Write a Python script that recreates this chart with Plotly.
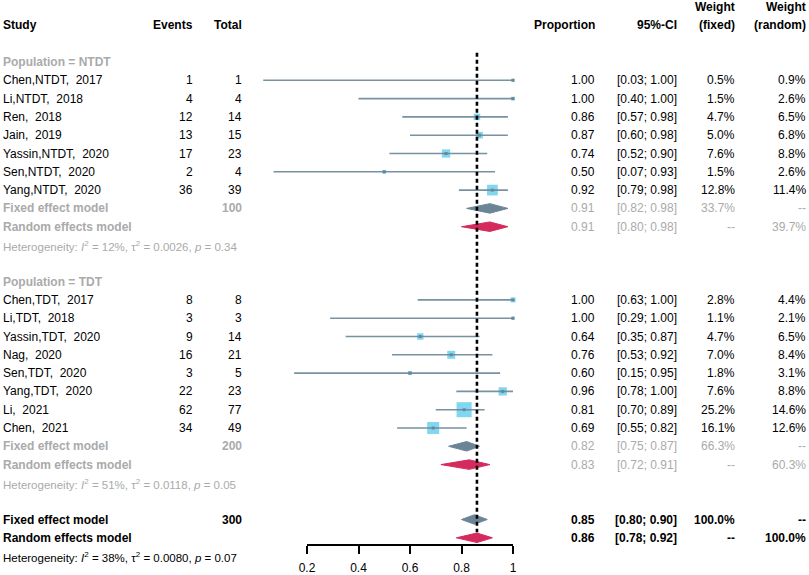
import plotly.graph_objects as go

# ---------------- data ----------------
ntdt_study = ["Chen,NTDT,\u00a0 2017", "Li,NTDT,\u00a0 2018", "Ren,\u00a0 2018", "Jain,\u00a0 2019",
              "Yassin,NTDT,\u00a0 2020", "Sen,NTDT,\u00a0 2020", "Yang,NTDT,\u00a0 2020"]
ntdt_events = [1, 4, 12, 13, 17, 2, 36]
ntdt_total = [1, 4, 14, 15, 23, 4, 39]
ntdt_prop = [1.00, 1.00, 0.86, 0.87, 0.74, 0.50, 0.92]
ntdt_lo = [0.03, 0.40, 0.57, 0.60, 0.52, 0.07, 0.79]
ntdt_hi = [1.00, 1.00, 0.98, 0.98, 0.90, 0.93, 0.98]
ntdt_wf = [0.5, 1.5, 4.7, 5.0, 7.6, 1.5, 12.8]
ntdt_wr = [0.9, 2.6, 6.5, 6.8, 8.8, 2.6, 11.4]
ntdt_fixed = [0.91, 0.82, 0.98]   # est, lo, hi
ntdt_random = [0.91, 0.80, 0.98]
ntdt_sum_total = 100
ntdt_sum_wf = 33.7
ntdt_sum_wr = 39.7
ntdt_het = ["12%", "0.0026", "0.34"]

tdt_study = ["Chen,TDT,\u00a0 2017", "Li,TDT,\u00a0 2018", "Yassin,TDT,\u00a0 2020", "Nag,\u00a0 2020",
             "Sen,TDT,\u00a0 2020", "Yang,TDT,\u00a0 2020", "Li,\u00a0 2021", "Chen,\u00a0 2021"]
tdt_events = [8, 3, 9, 16, 3, 22, 62, 34]
tdt_total = [8, 3, 14, 21, 5, 23, 77, 49]
tdt_prop = [1.00, 1.00, 0.64, 0.76, 0.60, 0.96, 0.81, 0.69]
tdt_lo = [0.63, 0.29, 0.35, 0.53, 0.15, 0.78, 0.70, 0.55]
tdt_hi = [1.00, 1.00, 0.87, 0.92, 0.95, 1.00, 0.89, 0.82]
tdt_wf = [2.8, 1.1, 4.7, 7.0, 1.8, 7.6, 25.2, 16.1]
tdt_wr = [4.4, 2.1, 6.5, 8.4, 3.1, 8.8, 14.6, 12.6]
tdt_fixed = [0.82, 0.75, 0.87]
tdt_random = [0.83, 0.72, 0.91]
tdt_sum_total = 200
tdt_sum_wf = 66.3
tdt_sum_wr = 60.3
tdt_het = ["51%", "0.0118", "0.05"]

all_fixed = [0.85, 0.80, 0.90]
all_random = [0.86, 0.78, 0.92]
all_total = 300
all_het = ["38%", "0.0080", "0.07"]

tick_vals = [0.2, 0.4, 0.6, 0.8, 1.0]
tick_text = ["0.2", "0.4", "0.6", "0.8", "1"]

# ---------------- layout constants ----------------
W, H = 809, 575
ROW0_PX, ROW_PX = 62.0, 18.3
X0_PX, XUNIT_PX = 255.5, 257.5
FONT = "Liberation Sans, Arial, sans-serif"
GRAY = "#aaaaaa"
SQ_COL = "#4dc6ea"
CI_COL = "#6a8799"
FIX_COL = "#6b8597"
RAN_COL = "#d42a5d"
COL = dict(study=3, events=193, total=242, prop=595, ci=677, wf=735, wr=806)

fig = go.Figure()
ann = []


def txt(col, row, s, anchor="right", color="black", bold=False, size=12):
    if bold:
        s = "<b>" + s + "</b>"
    ann.append(dict(xref="paper", yref="y", x=COL[col] / W, y=row, text=s, showarrow=False,
                    xanchor=anchor, yanchor="middle", borderpad=0, borderwidth=0,
                    font=dict(family=FONT, size=size, color=color)))


def ci(lo, hi):
    return f"[{lo:.2f}; {hi:.2f}]"


def het_text(h):
    return (f"Heterogeneity: <i>I</i><sup>2</sup> = {h[0]}, \u03c4<sup>2</sup> = {h[1]}, "
            f"<i>p</i> = {h[2]}")


def diamond(vals, row, color, hh=0.26):
    est, lo, hi = vals
    fig.add_trace(go.Scatter(x=[lo, est, hi, est, lo], y=[row, row - hh, row, row + hh, row],
                             mode="lines", fill="toself", fillcolor=color,
                             line=dict(color=color, width=1), hoverinfo="skip", showlegend=False))


def studies(names, ev, tot, p, lo, hi, wf, wr, start):
    rows = [start + i for i in range(len(names))]
    sizes = [max(3.0 * w ** 0.5, 3) for w in wf]
    fig.add_trace(go.Scatter(x=p, y=rows, mode="markers",
                             marker=dict(symbol="square", size=sizes, color=SQ_COL, line=dict(width=0)),
                             hoverinfo="skip", showlegend=False))
    for r, a, b in zip(rows, lo, hi):
        fig.add_trace(go.Scatter(x=[a, b], y=[r, r], mode="lines", line=dict(color=CI_COL, width=1.6),
                                 opacity=0.9, hoverinfo="skip", showlegend=False))
    fig.add_trace(go.Scatter(x=p, y=rows, mode="markers",
                             marker=dict(symbol="square", size=3, color=CI_COL),
                             hoverinfo="skip", showlegend=False))
    for i, r in enumerate(rows):
        txt("study", r, names[i], anchor="left")
        txt("events", r, str(ev[i]))
        txt("total", r, str(tot[i]))
        txt("prop", r, f"{p[i]:.2f}")
        txt("ci", r, ci(lo[i], hi[i]))
        txt("wf", r, f"{wf[i]:.1f}%")
        txt("wr", r, f"{wr[i]:.1f}%")
    return rows[-1]


def summary(fixed, random, total, wf, wr, het, start, color, bold):
    r = start
    txt("study", r, "Fixed effect model", anchor="left", color=color, bold=True)
    txt("total", r, str(total), color=color, bold=True)
    txt("prop", r, f"{fixed[0]:.2f}", color=color, bold=bold)
    txt("ci", r, ci(fixed[1], fixed[2]), color=color, bold=bold)
    txt("wf", r, f"{wf:.1f}%", color=color, bold=bold)
    txt("wr", r, "--", color=color, bold=bold)
    diamond(fixed, r, FIX_COL)
    r += 1
    txt("study", r, "Random effects model", anchor="left", color=color, bold=True)
    txt("prop", r, f"{random[0]:.2f}", color=color, bold=bold)
    txt("ci", r, ci(random[1], random[2]), color=color, bold=bold)
    txt("wf", r, "--", color=color, bold=bold)
    txt("wr", r, f"{wr:.1f}%", color=color, bold=bold)
    diamond(random, r, RAN_COL)
    r += 1
    txt("study", r + 0.05, het_text(het), anchor="left", color=color, size=11.5)
    return r


# headers
txt("study", -2, "Study", anchor="left", bold=True)
txt("events", -2, "Events", bold=True)
txt("total", -2, "Total", bold=True)
txt("prop", -2, "Proportion", bold=True)
txt("ci", -2, "95%-CI", bold=True)
txt("wf", -3, "Weight", bold=True)
txt("wf", -2, "(fixed)", bold=True)
txt("wr", -3, "Weight", bold=True)
txt("wr", -2, "(random)", bold=True)

row = 0
txt("study", row, "Population = NTDT", anchor="left", color=GRAY, bold=True)
row = studies(ntdt_study, ntdt_events, ntdt_total, ntdt_prop, ntdt_lo, ntdt_hi, ntdt_wf, ntdt_wr, row + 1)
row = summary(ntdt_fixed, ntdt_random, ntdt_sum_total, ntdt_sum_wf, ntdt_sum_wr, ntdt_het, row + 1, GRAY, False)
row += 2
txt("study", row, "Population = TDT", anchor="left", color=GRAY, bold=True)
row = studies(tdt_study, tdt_events, tdt_total, tdt_prop, tdt_lo, tdt_hi, tdt_wf, tdt_wr, row + 1)
row = summary(tdt_fixed, tdt_random, tdt_sum_total, tdt_sum_wf, tdt_sum_wr, tdt_het, row + 1, GRAY, False)
row += 2
last = summary(all_fixed, all_random, all_total, 100.0, 100.0, all_het, row, "black", True)

# reference dashed line at overall random estimate
fig.add_trace(go.Scatter(x=[all_random[0], all_random[0]], y=[-0.5, last - 1.3], mode="lines",
                         line=dict(color="black", width=2.6, dash="4px,3px"),
                         hoverinfo="skip", showlegend=False))

# axis carrier trace
axis_row = (545 - ROW0_PX) / ROW_PX
fig.add_trace(go.Scatter(x=tick_vals, y=[axis_row] * len(tick_vals), xaxis="x2", yaxis="y",
                         mode="markers", marker=dict(opacity=0), hoverinfo="skip", showlegend=False))

xr = [(0 - X0_PX) / XUNIT_PX, (W - X0_PX) / XUNIT_PX]
yr = [(H - ROW0_PX) / ROW_PX, (0 - ROW0_PX) / ROW_PX]
d0 = (X0_PX + XUNIT_PX * tick_vals[0]) / W
d1 = (X0_PX + XUNIT_PX * tick_vals[-1]) / W

fig.update_layout(
    width=W, height=H, autosize=False,
    margin=dict(l=0, r=0, t=0, b=0, pad=0, autoexpand=False),
    paper_bgcolor="white", plot_bgcolor="rgba(0,0,0,0)",
    showlegend=False,
    annotations=ann,
    xaxis=dict(range=xr, visible=False, domain=[0, 1], fixedrange=True),
    yaxis=dict(range=yr, visible=False, domain=[0, 1], fixedrange=True),
    xaxis2=dict(domain=[d0, d1], range=[tick_vals[0] - 1e-6, tick_vals[-1] + 1e-6],
                anchor="free", position=1 - 545 / H,
                showline=True, linecolor="black", linewidth=1.6,
                ticks="outside", ticklen=8, tickwidth=1.6, tickcolor="black",
                ticklabelstandoff=4,
                tickvals=tick_vals, ticktext=tick_text, showgrid=False, zeroline=False,
                tickfont=dict(family=FONT, size=12, color="black"), fixedrange=True),
)

fig.write_html("out.html", config={"displayModeBar": False},
               post_script="document.body.style.margin='0px';")
